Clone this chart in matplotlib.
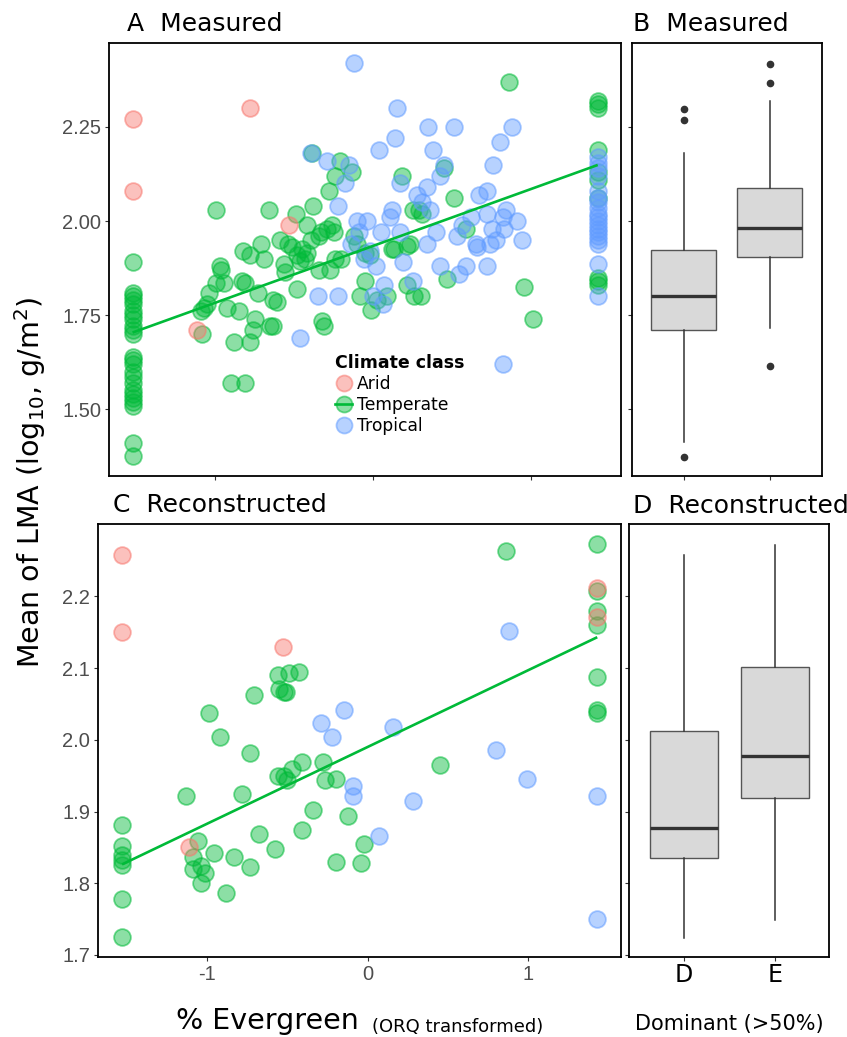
import matplotlib
matplotlib.use("Agg")
import matplotlib.pyplot as plt
import numpy as np
from matplotlib.lines import Line2D

# ---------------- DATA ----------------
# Panel A (Measured): x = % evergreen (ORQ transformed), y = mean log10 LMA
A_arid_x = [-1.52, -1.52, -0.78, -0.53, -1.11]
A_arid_y = [2.27, 2.08, 2.30, 1.99, 1.71]

A_temp_x = [-1.52, -1.52, -1.52, -1.52, -1.52, -1.52, -1.52, -1.52, -1.52, -1.52, -1.52, -1.52,
            -1.52, -1.52, -1.52, -1.52, -1.52, -1.52, -1.52, -1.52, -1.52, -1.52, -1.52, -1.52,
            1.42, 1.42, 1.42, 1.42, 1.42, 1.42, 1.42, 1.42, 1.42, 1.42,
            -0.99, -0.97, -0.96, -0.99, -1.04, -1.05, -1.07, -1.09, -1.08, -0.94,
            -0.92, -0.88, -0.90, -0.81, -0.85, -0.82, -0.78, -0.83, -0.81, -0.76,
            -0.78, -0.745, -0.73, -0.71, -0.69,
            -0.66, -0.38, -0.49, -0.385, -0.21, -0.13, -0.24, -0.28, 0.18, -0.42,
            -0.33, -0.29, -0.26, -0.25, -0.59, -0.54, -0.51, -0.45, -0.42, -0.48,
            -0.46, -0.43, -0.39, -0.34, -0.565, -0.555, -0.48, -0.34, -0.27, -0.24,
            -0.20, -0.12, -0.10, -0.05, -0.02, 0.12, 0.215, 0.235, 0.29, 0.31,
            0.25, -0.05, -0.08, 0.025, 0.09, -0.01, 0.215, 0.26, -0.63, -0.61,
            -0.65, -0.63, -0.32, -0.31,
            0.45, 0.51, 0.585, 0.47, 0.955, 1.01, 0.86, 0.13, 0.30]
A_temp_y = [1.89, 1.81, 1.80, 1.79, 1.78, 1.76, 1.75, 1.74, 1.72, 1.71, 1.70, 1.64,
            1.63, 1.62, 1.60, 1.585, 1.57, 1.55, 1.54, 1.53, 1.52, 1.51, 1.41, 1.375,
            2.32, 2.31, 2.30, 2.19, 2.13, 2.11, 2.06, 1.85, 1.84, 1.83,
            2.03, 1.88, 1.87, 1.835, 1.81, 1.78, 1.77, 1.76, 1.70, 1.835,
            1.77, 1.68, 1.57, 1.57, 1.76, 1.92, 1.91, 1.84, 1.835, 1.71,
            1.68, 1.74, 1.81, 1.94, 1.90,
            2.03, 2.04, 2.02, 2.18, 2.16, 2.13, 2.12, 2.08, 2.12, 1.99,
            1.97, 1.98, 1.99, 1.97, 1.95, 1.94, 1.93, 1.925, 1.915, 1.91,
            1.895, 1.90, 1.95, 1.96, 1.885, 1.865, 1.82, 1.87, 1.87, 1.90,
            1.90, 1.96, 1.94, 1.915, 1.91, 1.925, 1.935, 1.94, 2.03, 2.02,
            2.03, 1.84, 1.80, 1.79, 1.80, 1.765, 1.83, 1.80, 1.79, 1.785,
            1.72, 1.72, 1.735, 1.72,
            2.14, 2.06, 1.98, 1.845, 1.825, 1.74, 2.37, 1.925, 1.80]

A_trop_x = [-0.12, -0.39, -0.29, -0.15, -0.18, 0.04, 0.14, 0.17, -0.22, -0.10,
            -0.04, 0.12, 0.11, 0.28, 0.31, 0.34, -0.09, 0.05, 0.17, -0.14,
            -0.02, -0.06, 0.02, 0.19, 0.34, 0.07, 0.25, -0.35, -0.22, 0.06,
            -0.46, 0.35, 0.51, 0.88, 0.38, 0.80, 0.45, 0.76, 0.42, 0.67,
            0.72, 0.36, 0.72, 0.84, 0.82, 0.91, 0.56, 0.62, 0.75, 0.83,
            0.40, 0.53, 0.65, 0.66, 0.74, 0.78, 0.94, 0.42, 0.54, 0.59,
            0.72, 0.82, 0.00, 0.15,
            1.42, 1.42, 1.42, 1.42, 1.42, 1.42, 1.42, 1.42, 1.42, 1.42,
            1.42, 1.42, 1.42, 1.42, 1.42, 1.42, 1.42, 1.42, 1.42]
A_trop_y = [2.42, 2.18, 2.16, 2.15, 2.10, 2.19, 2.22, 2.10, 2.04, 2.00,
            2.00, 2.03, 2.01, 2.07, 2.05, 2.09, 1.97, 1.97, 1.97, 1.94,
            1.92, 1.90, 1.88, 1.89, 1.94, 1.83, 1.84, 1.80, 1.80, 1.78,
            1.69, 2.25, 2.25, 2.25, 2.19, 2.21, 2.15, 2.15, 2.12, 2.07,
            2.08, 2.03, 2.02, 2.03, 2.01, 2.00, 1.99, 2.01, 1.98, 1.98,
            1.97, 1.96, 1.94, 1.93, 1.94, 1.95, 1.95, 1.88, 1.86, 1.88,
            1.88, 1.62, 1.80, 2.30,
            2.17, 2.155, 2.14, 2.12, 2.08, 2.06, 2.05, 2.035, 2.02, 2.01,
            2.00, 1.99, 1.98, 1.97, 1.96, 1.95, 1.94, 1.885, 1.80]

# Panel C (Reconstructed)
C_arid_x = [-1.53, -1.53, -0.53, -1.11, 1.43, 1.43]
C_arid_y = [2.258, 2.150, 2.129, 1.850, 2.212, 2.171]

C_temp_x = [-1.53, -1.53, -1.53, -1.53, -1.53, -1.53, -1.53,
            1.43, 1.43, 1.43, 1.43, 1.43, 1.43, 1.43,
            -0.99, -0.92, -0.71, -0.73, -1.13, -0.78, -0.56, -0.49, -0.425, -0.55,
            -0.51, -0.52, -0.56, -0.52, -0.50, -0.47, -0.41, -0.28, -0.265, -0.20,
            -0.34, -0.125, -0.41, -0.68, -0.58, -0.20, -0.04, -0.02, -1.06, -1.09,
            -1.09, -1.04, -1.015, -1.04, -0.96, -0.83, -0.73, -0.88, 0.86, 0.45]
C_temp_y = [1.881, 1.852, 1.840, 1.832, 1.826, 1.778, 1.725,
            2.273, 2.207, 2.180, 2.160, 2.087, 2.041, 2.037,
            2.038, 2.004, 2.062, 1.982, 1.922, 1.925, 2.091, 2.093, 2.095, 2.071,
            2.066, 2.067, 1.950, 1.949, 1.944, 1.959, 1.969, 1.969, 1.944, 1.945,
            1.902, 1.894, 1.874, 1.869, 1.848, 1.829, 1.828, 1.855, 1.859, 1.837,
            1.820, 1.824, 1.814, 1.800, 1.842, 1.837, 1.823, 1.786, 2.263, 1.965]

C_trop_x = [-0.29, -0.15, -0.22, -0.09, -0.09, 0.155, 0.80, 0.88, 0.99, 0.285, 0.07, 1.43, 1.43]
C_trop_y = [2.024, 2.041, 2.004, 1.935, 1.922, 2.018, 1.986, 2.151, 1.946, 1.915, 1.866, 1.921, 1.750]

# Linear fits (intercept, slope)
fit_A = (1.934, 0.1514)
fit_C = (1.990, 0.107)

# Boxplot summaries by dominant leaf habit (D = deciduous, E = evergreen)
box_groups = ["D", "E"]
B_stats = {"D": dict(whislo=1.413, q1=1.711, med=1.800, q3=1.922, whishi=2.181, fliers=[2.298, 2.269, 1.373]),
           "E": dict(whislo=1.715, q1=1.905, med=1.981, q3=2.087, whishi=2.320, fliers=[2.417, 2.368, 1.614])}
D_stats = {"D": dict(whislo=1.724, q1=1.8345, med=1.877, q3=2.0125, whishi=2.258, fliers=[]),
           "E": dict(whislo=1.749, q1=1.919, med=1.977, q3=2.101, whishi=2.271, fliers=[])}

A_yticks = [1.50, 1.75, 2.00, 2.25]
A_yticklabels = ["1.50", "1.75", "2.00", "2.25"]
C_yticks = [1.7, 1.8, 1.9, 2.0, 2.1, 2.2]
C_yticklabels = ["1.7", "1.8", "1.9", "2.0", "2.1", "2.2"]
x_ticks = [-1, 0, 1]
x_ticklabels = ["-1", "0", "1"]
classes = ["Arid", "Temperate", "Tropical"]

# ---------------- STYLE ----------------
plt.rcParams['font.family'] = ['DejaVu Sans']
plt.rcParams['axes.unicode_minus'] = False
W, H = 847, 1037
fig = plt.figure(figsize=(W / 100, H / 100), dpi=100)

COL = {"Arid": "#F8766D", "Temperate": "#00BA38", "Tropical": "#619CFF"}
FACE_A = 0.45
EDGE_A = 0.55
TICKC = "#4D4D4D"


def rgba(c, a):
    r, g, b, _ = matplotlib.colors.to_rgba(c)
    return (r, g, b, a)


def px_axes(l, t, r, b):
    return fig.add_axes([l / W, 1 - b / H, (r - l) / W, (b - t) / H])


def expand(vals, f=0.05):
    lo, hi = min(vals), max(vals)
    d = (hi - lo) * f
    return lo - d, hi + d


def style_axes(ax):
    for s in ax.spines.values():
        s.set_linewidth(1.3)
        s.set_color("black")
    ax.tick_params(direction="out", length=2.75, width=0.8, color="#333333",
                   labelcolor=TICKC, labelsize=14.5, pad=3)


def scatter_panel(ax, data, fit, yticks, yticklabels, show_xlabels):
    allx, ally = [], []
    for cls in ["Temperate", "Tropical", "Arid"]:
        x, y = data[cls]
        allx += x
        ally += y
        ax.scatter(x, y, s=145, facecolor=rgba(COL[cls], FACE_A),
                   edgecolor=rgba(COL[cls], EDGE_A), linewidth=1.3, zorder=2)
    xs = np.array([min(allx), max(allx)])
    ax.plot(xs, fit[0] + fit[1] * xs, color=COL["Temperate"], linewidth=1.9, zorder=3,
            solid_capstyle="butt")
    ax.set_xlim(*expand(allx))
    ax.set_ylim(*expand(ally))
    ax.set_yticks(yticks)
    ax.set_yticklabels(yticklabels)
    ax.set_xticks(x_ticks)
    if show_xlabels:
        ax.set_xticklabels(x_ticklabels)
    else:
        ax.set_xticklabels([])
    style_axes(ax)
    for lab in ax.get_xticklabels() + ax.get_yticklabels():
        lab.set_fontfamily("Liberation Sans")


def box_panel(ax, stats, ylim, show_xlabels):
    bxp = []
    for g in box_groups:
        st = dict(stats[g])
        st["label"] = g
        bxp.append(st)
    ax.bxp(bxp, positions=[1, 2], widths=0.75, patch_artist=True, showcaps=False,
           boxprops=dict(facecolor="#D9D9D9", edgecolor="#555555", linewidth=1.0),
           medianprops=dict(color="#333333", linewidth=2.4, solid_capstyle="butt"),
           whiskerprops=dict(color="#333333", linewidth=1.1),
           flierprops=dict(marker="o", markerfacecolor="#333333", markeredgecolor="#333333",
                           markersize=4.5))
    ax.set_xlim(0.4, 2.6)
    ax.set_ylim(*ylim)
    style_axes(ax)
    ax.set_yticklabels([])
    ax.set_xticks([1, 2])
    if show_xlabels:
        ax.set_xticklabels(box_groups)
        ax.tick_params(axis="x", labelsize=17, labelcolor="black", pad=2)
    else:
        ax.set_xticklabels([])


# ---------------- PANELS ----------------
axA = px_axes(109.3, 43.3, 621, 476)
axB = px_axes(631.7, 43.3, 821.7, 476)
axC = px_axes(98.3, 524.3, 621, 956.7)
axD = px_axes(629.3, 524.3, 829.3, 956.7)

scatter_panel(axA, {"Arid": (A_arid_x, A_arid_y), "Temperate": (A_temp_x, A_temp_y),
                    "Tropical": (A_trop_x, A_trop_y)}, fit_A, A_yticks, A_yticklabels, False)
scatter_panel(axC, {"Arid": (C_arid_x, C_arid_y), "Temperate": (C_temp_x, C_temp_y),
                    "Tropical": (C_trop_x, C_trop_y)}, fit_C, C_yticks, C_yticklabels, True)

box_panel(axB, B_stats, axA.get_ylim(), False)
axB.set_yticks(A_yticks)
axB.set_yticklabels([])
box_panel(axD, D_stats, axC.get_ylim(), True)
axD.set_yticks(C_yticks)
axD.set_yticklabels([])

# Legend
handles = []
for cls in classes:
    kw = dict(marker="o", markersize=11.5, markerfacecolor=rgba(COL[cls], FACE_A),
              markeredgecolor=rgba(COL[cls], EDGE_A), markeredgewidth=1.3)
    if cls == "Temperate":
        handles.append(Line2D([], [], color=COL[cls], linewidth=1.9, **kw))
    else:
        handles.append(Line2D([], [], linestyle="none", **kw))
leg = axA.legend(handles, classes, title="Climate class", loc="upper left",
                 bbox_to_anchor=((335 - 109.3) / 511.7, (476 - 354) / 432.7),
                 frameon=False, fontsize=12.3, title_fontproperties={"weight": "bold", "size": 12.5},
                 handlelength=1.0, handletextpad=0.3, labelspacing=0.17, borderpad=0,
                 borderaxespad=0, alignment="left", numpoints=1)

# ---------------- TEXT ----------------
def ftext(x, y, s, **kw):
    fig.text(x / W, 1 - y / H, s, **kw)

ftext(127, 31, "A  Measured", fontsize=18, va="baseline", ha="left")
ftext(633, 31, "B  Measured", fontsize=18, va="baseline", ha="left")
ftext(113, 512, "C  Reconstructed", fontsize=18, va="baseline", ha="left")
ftext(633, 513, "D  Reconstructed", fontsize=18, va="baseline", ha="left")

ftext(30, 482, r"Mean of LMA (log$_{10}$, g/m$^{2}$)", fontsize=20.5, rotation=90,
      ha="center", va="center")
ftext(176, 1029, "% Evergreen", fontsize=20.5, ha="left", va="baseline")
ftext(372, 1032, "(ORQ transformed)", fontsize=13, ha="left", va="baseline")
ftext(729, 1030, "Dominant (>50%)", fontsize=15, ha="center", va="baseline")

fig.savefig("out.png", dpi=100)
